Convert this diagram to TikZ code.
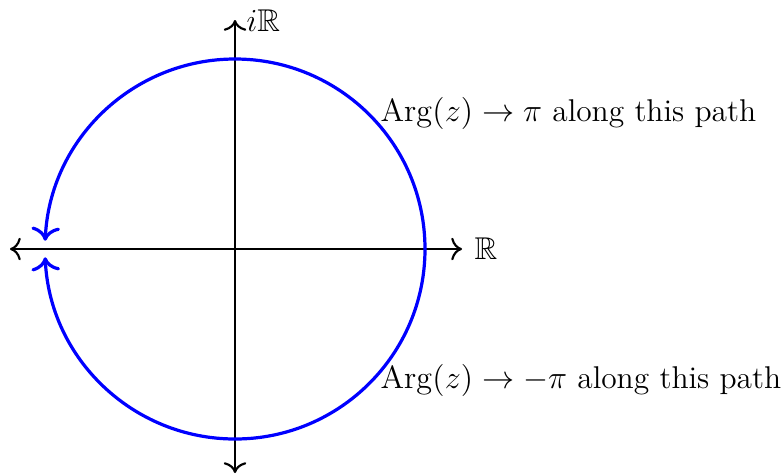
\documentclass[tikz,border=0pt]{standalone}
\usepackage{amssymb}
\usetikzlibrary{arrows.meta}
\begin{document}
\begin{tikzpicture}[x=0.013123cm,y=-0.013123cm,
  font=\fontsize{11.75}{14}\selectfont,
  >={To[scale=1.2]},
  axis/.style={thick,->},
  path/.style={very thick,blue,->},
  lab/.style={anchor=west,inner sep=0pt}]
\useasboundingbox (0,0) rectangle (782,475);
\coordinate (O) at (235,249);
\coordinate (xl) at (10,249);
\coordinate (xr) at (462,249);
\coordinate (yt) at (235,20);
\coordinate (yb) at (235,473);
\coordinate (S) at (425,249);
\draw[axis] (O) -- (xr);
\draw[axis] (O) -- (xl);
\draw[axis] (O) -- (yt);
\draw[axis] (O) -- (yb);
\node[lab] (re) at (474,249) {$\mathbb{R}$};
\node[lab] (im) at (246,21) {$i\mathbb{R}$};
\draw[path] (S) arc[start angle=0,end angle=177.5,radius=190];
\draw[path] (S) arc[start angle=0,end angle=-177.5,radius=190];
\node[lab] (t1) at (380,113) {$\mathrm{Arg}(z)\to\pi$ along this path};
\node[lab] (t2) at (380,380) {$\mathrm{Arg}(z)\to-\pi$ along this path};
\end{tikzpicture}
\end{document}
